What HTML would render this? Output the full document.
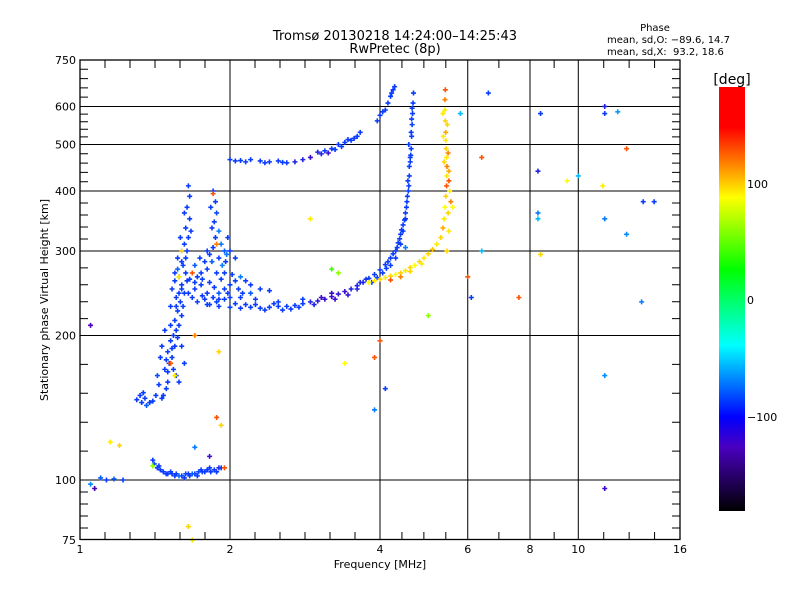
<!DOCTYPE html>
<html><head><meta charset="utf-8"><style>
body{margin:0;background:#fff;}
svg{display:block;font-family:"DejaVu Sans","Liberation Sans",sans-serif;}
</style></head><body>
<svg id="chart" width="800" height="600" viewBox="0 0 800 600" xmlns="http://www.w3.org/2000/svg">
<defs><linearGradient id="cb" x1="0" y1="0" x2="0" y2="1">
<stop offset="0" stop-color="#ff0000"/><stop offset="0.095" stop-color="#ff0000"/><stop offset="0.18" stop-color="#ff8000"/><stop offset="0.26" stop-color="#ffff00"/><stop offset="0.43" stop-color="#00ff00"/><stop offset="0.609" stop-color="#00ffff"/><stop offset="0.778" stop-color="#0000ff"/><stop offset="0.849" stop-color="#4a00c0"/><stop offset="1" stop-color="#000000"/>
</linearGradient></defs>
<text x="395" y="40" font-size="13" text-anchor="middle">Tromsø 20130218 14:24:00–14:25:43</text>
<text x="395" y="53" font-size="13" text-anchor="middle">RwPretec (8p)</text>
<g font-size="10">
<text x="655" y="31" text-anchor="middle">Phase</text>
<text x="607" y="43">mean, sd,O: −89.6, 14.7</text>
<text x="607" y="55">mean, sd,X:&#160; 93.2, 18.6</text>
</g>
<g id="grid"></g>
<g id="ticks"></g>
<g id="points"></g>
<rect x="80" y="60" width="600" height="479.5" fill="none" stroke="#000" stroke-width="1.3"/>
<g id="xlabels" font-size="11" text-anchor="middle"></g>
<g id="ylabels" font-size="11" text-anchor="end"></g>
<text x="380" y="568" font-size="11" text-anchor="middle">Frequency [MHz]</text>
<text transform="translate(48,300) rotate(-90)" font-size="11" text-anchor="middle">Stationary phase Virtual Height [km]</text>
<rect x="719" y="87" width="26" height="424" fill="url(#cb)"/>
<text x="732" y="84" font-size="14" text-anchor="middle">[deg]</text>
<g font-size="11">
<text x="747" y="188">100</text><text x="747" y="304">0</text><text x="747" y="421">−100</text>
</g>
</svg>
<script>
const xTicks=[1,2,4,6,8,10,16];
const yTicks=[75,100,200,300,400,500,600,750];
const xGrid=[2,4,6,8,10];
const yGrid=[100,200,300,400,500,600];
const lowE=[[1.10,101,-90],[1.13,100,-100],[1.17,100.5,-90],[1.22,100,-100],[1.4,110,-100],[1.41,108,-95],[1.43,106,-100],[1.45,105,-100],[1.47,104,-100],[1.5,103,-95],[1.53,103,-100],[1.56,103,-100],[1.6,102,-100],[1.63,103,-95],[1.66,102,-100],[1.7,103,-100],[1.73,104,-95],[1.76,104,-100],[1.8,105,-100],[1.83,104,-100],[1.86,105,-100],[1.9,106,-110],[1.58,102,-85],[1.68,103,-90],[1.75,105,-100],[1.62,101,-100],[1.52,104,-100],[1.92,106,-100],[1.55,102,-100],[1.78,104,-100],[1.44,107,-100],[1.49,103,-100],[1.65,103,-100],[1.72,102,-100],[1.82,106,-100],[1.88,104,-100]];
const f1Column=[[1.3,147,-100],[1.33,145,-100],[1.36,143,-90],[1.32,150,-100],[1.4,146,-100],[1.42,150,-100],[1.44,158,-100],[1.43,165,-95],[1.47,150,-100],[1.49,155,-100],[1.5,160,-100],[1.48,170,-100],[1.51,175,-100],[1.5,185,-100],[1.53,180,-100],[1.52,195,-100],[1.55,190,-100],[1.54,200,-100],[1.56,205,-100],[1.55,215,-100],[1.58,210,-100],[1.57,225,-100],[1.6,220,-100],[1.59,235,-100],[1.56,240,-100],[1.62,245,-100],[1.6,255,-100],[1.58,265,-100],[1.63,270,-100],[1.61,280,-100],[1.57,290,-100],[1.64,300,-100],[1.62,310,-100],[1.65,320,-100],[1.63,335,-100],[1.66,350,-100],[1.64,370,-100],[1.66,390,-100],[1.65,410,-100],[1.62,360,-100],[1.67,330,-100],[1.6,300,-100],[1.55,260,-100],[1.52,230,-100],[1.48,205,-100],[1.46,190,-100],[1.45,180,-100],[1.6,190,-100],[1.62,175,-100],[1.58,160,-100],[1.56,165,-100],[1.53,250,-100],[1.57,275,-90],[1.61,230,-100],[1.54,170,-100],[1.35,148,-100],[1.38,145,-100],[1.34,152,-100],[1.46,148,-100],[1.5,168,-100],[1.53,188,-100],[1.57,198,-100],[1.58,245,-100],[1.55,270,-100],[1.6,285,-100],[1.59,320,-100],[1.63,290,-100],[1.64,260,-100],[1.56,230,-100],[1.52,210,-100],[1.49,178,-100]];
const f1Spike=[[1.85,400,-100],[1.87,380,-100],[1.83,370,-100],[1.88,360,-95],[1.86,345,-100],[1.84,335,-100],[1.9,330,-80],[1.87,320,-100],[1.92,310,-80],[1.85,305,-100],[1.95,300,-90],[1.82,295,-100],[1.9,290,-100],[1.78,285,-100],[1.97,295,-80],[1.75,270,-100],[1.8,275,-100],[1.93,280,-80],[1.88,270,-100],[1.72,265,-100],[1.7,280,-90],[1.6,250,-100],[1.65,245,-100],[1.7,250,-100],[1.75,255,-100],[1.8,245,-100],[1.85,240,-100],[1.9,245,-90],[1.95,250,-100],[2.0,255,-100],[2.05,260,-100],[2.1,265,-80],[2.15,260,-100],[2.2,255,-100],[1.68,240,-100],[1.72,235,-100],[1.78,238,-100],[1.82,232,-100],[1.88,235,-100],[1.95,238,-100],[2.0,240,-100],[1.66,262,-100],[1.74,290,-100],[2.0,300,-100],[2.05,290,-100],[1.98,320,-100],[1.95,270,-100],[2.1,240,-100],[2.2,245,-90],[2.3,250,-100],[2.4,248,-100],[2.25,238,-100],[1.76,262,-100],[1.82,258,-100],[1.86,252,-100],[1.92,262,-100],[1.98,245,-100],[2.02,268,-100],[1.7,258,-100],[1.84,285,-90],[1.8,300,-100],[1.96,285,-100],[2.08,250,-100],[2.12,245,-100],[1.9,238,-100],[1.76,242,-100]];
const oTrace=[[1.8,232,-100],[1.9,230,-100],[2.0,229,-100],[2.1,228,-100],[2.2,229,-100],[2.3,228,-100],[2.4,229,-100],[2.5,230,-100],[2.6,230,-100],[2.7,231,-100],[2.8,233,-100],[2.9,235,-110],[3.0,236,-115],[3.1,238,-120],[3.2,241,-120],[3.3,244,-115],[3.4,247,-120],[3.5,250,-110],[3.6,254,-110],[3.7,258,-105],[3.8,263,-100],[3.9,268,-100],[4.0,274,-100],[4.1,281,-100],[4.2,290,-100],[4.3,300,-100],[4.35,312,-100],[4.4,325,-100],[4.45,340,-100],[4.5,360,-100],[4.53,380,-100],[4.56,400,-100],[4.58,430,-100],[4.6,460,-100],[4.62,490,-100],[4.63,520,-100],[4.64,550,-100],[4.65,580,-100],[4.66,610,-100],[4.67,640,-100],[4.2,280,-100],[4.3,290,-100],[4.4,310,-100],[4.45,330,-100],[4.5,350,-100],[4.52,370,-100],[4.55,420,-100],[4.58,450,-100],[2.5,235,-100],[2.8,238,-100],[3.2,245,-120],[3.6,250,-110],[2.15,232,-100],[2.35,226,-100],[2.65,227,-100],[4.12,276,-100],[4.6,470,-100],[4.57,500,-100],[2.05,233,-100],[2.25,232,-100],[2.45,233,-100],[2.55,226,-100],[2.75,229,-100],[2.95,232,-110],[3.05,240,-120],[3.25,238,-120],[3.45,243,-115],[3.65,258,-110],[3.75,262,-105],[3.85,258,-100],[3.95,264,-100],[4.05,270,-100],[4.15,285,-100],[4.25,296,-100],[4.33,305,-100],[4.38,318,-100],[4.42,332,-100],[4.48,348,-100],[4.54,390,-100],[4.57,410,-100],[4.61,475,-100],[4.62,530,-100],[4.63,565,-100],[4.64,595,-100]];
const upperTrace=[[2.0,465,-100],[2.05,462,-100],[2.1,463,-100],[2.15,460,-100],[2.2,465,-100],[2.3,462,-100],[2.4,460,-100],[2.5,462,-100],[2.6,458,-100],[2.7,460,-110],[2.8,465,-110],[2.9,470,-120],[3.0,482,-110],[3.1,485,-100],[3.2,490,-100],[3.3,500,-100],[3.4,505,-100],[3.5,510,-100],[3.6,520,-100],[3.65,530,-100],[3.15,480,-120],[3.35,495,-100],[3.55,515,-100],[2.35,458,-100],[2.55,459,-100],[3.05,478,-110],[3.25,488,-100],[3.45,512,-100]];
const topBranch=[[3.95,560,-100],[4.0,575,-100],[4.05,585,-100],[4.1,590,-100],[4.15,610,-100],[4.2,630,-100],[4.25,650,-100],[4.28,660,-100],[4.22,640,-100]];
const xTrace=[[3.8,258,90],[3.9,260,95],[4.0,262,100],[4.1,264,95],[4.2,266,100],[4.3,268,90],[4.4,270,100],[4.5,273,95],[4.6,277,100],[4.7,280,90],[4.8,285,100],[4.9,290,95],[5.0,296,100],[5.1,302,105],[5.2,310,95],[5.3,320,100],[5.35,335,110],[5.38,350,95],[5.4,370,90],[5.42,390,100],[5.44,410,130],[5.45,430,95],[5.45,450,120],[5.44,470,95],[5.43,490,100],[5.42,510,95],[5.42,530,110],[5.41,560,100],[5.4,590,95],[5.4,620,120],[5.41,650,130],[5.55,380,120],[5.5,420,130],[5.5,330,95],[5.45,300,100],[5.6,370,90],[4.2,261,130],[4.4,265,120],[4.6,272,100],[4.85,282,95],[5.48,360,100],[5.52,400,95],[5.5,440,110],[5.38,460,100],[5.48,480,120],[5.36,520,95],[5.46,550,100],[5.35,580,95]];
const scatter=[[6.6,640,-100],[8.4,580,-100],[8.3,440,-110],[8.3,360,-80],[8.3,350,-60],[8.4,295,100],[9.5,420,90],[10.0,430,-60],[11.3,600,-110],[11.3,580,-100],[12.0,585,-70],[12.5,490,130],[11.2,410,95],[11.3,350,-80],[12.5,325,-75],[13.5,380,-100],[14.2,380,-100],[13.4,235,-80],[11.3,165,-75],[11.3,96,-120],[7.6,240,130],[6.4,300,-60],[5.8,580,-60],[6.4,470,130],[3.9,180,130],[3.9,140,-80],[4.1,155,-100],[5.0,220,60],[6.0,265,130],[3.4,175,90],[1.05,98,-75],[1.07,96,-130],[1.05,210,-125],[1.6,300,100],[1.68,270,130],[1.58,265,95],[1.85,395,130],[1.88,310,120],[1.7,200,120],[1.9,185,100],[1.55,165,95],[1.52,175,130],[1.88,135,130],[1.92,130,100],[1.15,120,95],[1.2,118,100],[1.68,75,95],[1.65,80,100],[1.7,117,-80],[1.82,112,-120],[1.95,106,130],[1.4,107,60],[3.2,275,40],[3.3,270,60],[2.9,350,95],[6.1,240,-100],[4.0,195,130],[4.5,305,-80]];
const S='http://www.w3.org/2000/svg';
function xS(f){return 80+150*Math.log2(f);}
function yS(h){return 480-480*Math.log10(h/100);}
const stops=[[180,[255,0,0]],[148,[255,0,0]],[120,[255,128,0]],[90,[255,255,0]],[25,[0,255,0]],[-39,[0,255,255]],[-100,[10,60,255]],[-125,[74,0,192]],[-180,[0,0,0]]];
function col(p){for(let i=0;i<stops.length-1;i++){const a=stops[i],b=stops[i+1];if(p<=a[0]&&p>=b[0]){const t=(a[0]-p)/(a[0]-b[0]);const c=a[1].map((v,k)=>Math.round(v+(b[1][k]-v)*t));return 'rgb('+c.join(',')+')';}}return '#000';}
function mk(tag,attrs,parent){const e=document.createElementNS(S,tag);for(const k in attrs)e.setAttribute(k,attrs[k]);parent.appendChild(e);return e;}
const grid=document.getElementById('grid');
xGrid.forEach(f=>{const l=mk('line',{x1:xS(f),x2:xS(f),y1:60,y2:540,stroke:'#000','stroke-width':1},grid);

});
yGrid.forEach(h=>{const l=mk('line',{x1:80,x2:680,y1:yS(h),y2:yS(h),stroke:'#000','stroke-width':1},grid);

});
const tk=document.getElementById('ticks');
let d='';
for(let i=0;i<xTicks.length-1;i++){const a=xS(xTicks[i]),b=xS(xTicks[i+1]);const n=Math.max(2,Math.round((b-a)/25));for(let k=1;k<n;k++){const x=a+(b-a)*k/n;d+=`M${x} 540V532M${x} 60V68`;}}
for(let i=0;i<yTicks.length-1;i++){const a=yS(yTicks[i]),b=yS(yTicks[i+1]);for(let k=1;k<5;k++){const y=a+(b-a)*k/5;d+=`M80 ${y}H88M680 ${y}H672`;}}
const tp=mk('path',{d:d,stroke:'#000','stroke-width':1,fill:'none'},tk);


const xl=document.getElementById('xlabels');
xTicks.forEach(f=>{const t=mk('text',{x:xS(f),y:553},xl);t.textContent=f;

});
const yl=document.getElementById('ylabels');
yTicks.forEach(h=>{const t=mk('text',{x:76,y:yS(h)+4},yl);t.textContent=h;

});
const pg=document.getElementById('points');
[['low-e-trace',lowE],['f1-column',f1Column],['f1-spike',f1Spike],['o-trace',oTrace],['upper-trace',upperTrace],['top-branch',topBranch],['x-trace',xTrace],['scatter',scatter]].forEach(([name,arr])=>{
arr.forEach(p=>{const x=xS(p[0]),y=yS(p[1]);
const e=mk('path',{d:`M${x-2.5} ${y}h5M${x} ${y-2.5}v5`,stroke:col(p[2]),'stroke-width':1.6,fill:'none'},pg);

});});
</script>
</body></html>
